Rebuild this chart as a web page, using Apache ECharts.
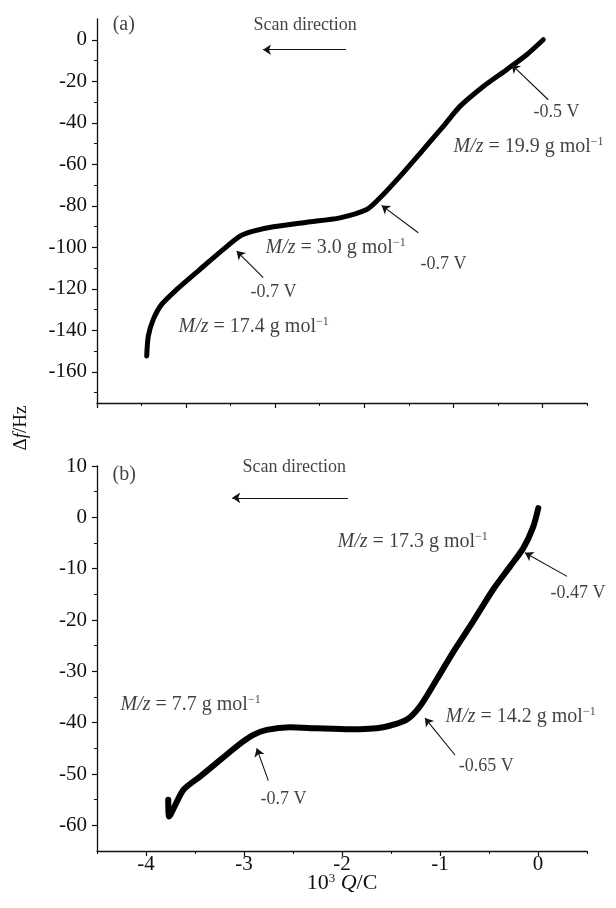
<!DOCTYPE html>
<html><head><meta charset="utf-8">
<script src="https://cdn.jsdelivr.net/npm/echarts@6/dist/echarts.min.js"></script>
<style>html,body{margin:0;padding:0;background:#fff}#c{width:616px;height:908px}</style>
</head><body><div id="c"></div>
<script>
// ---- Panel (a) data: 10^3 Q/C vs Δf/Hz ----
const qA  = [-4.442,-4.424,-4.368,-4.274,-4.105,-3.844,-3.582,-3.395,-3.246,-3.021,-2.646,-2.273,-1.973,-1.843,-1.599,-1.338,-1.113,-0.926,-0.664,-0.402,-0.177,0.009];
const dfA = [-152.3,-142.7,-134.7,-127.5,-120.3,-110.6,-101.0,-94.6,-92.2,-90.1,-87.9,-85.8,-81.8,-77.0,-65.8,-52.9,-41.7,-32.1,-22.5,-14.4,-7.2,0];
// ---- Panel (b) data ----
const qB  = [-3.773,-3.765,-3.619,-3.449,-3.245,-3.074,-2.905,-2.768,-2.531,-2.258,-1.918,-1.579,-1.340,-1.204,-1.034,-0.864,-0.660,-0.456,-0.286,-0.150,-0.048,0.003];
const dfB = [-55.0,-58.3,-53.1,-50.5,-47.3,-44.6,-42.4,-41.4,-40.9,-41.1,-41.3,-40.9,-39.4,-36.8,-31.6,-26.2,-20.2,-14.0,-9.6,-6.0,-1.8,1.8];

// ---- Axis ranges and ticks ----
const xRangeA = [-5, 0.5];
const xRangeB = [-4.5, 0.5];
const yRangeA = [-175, 10];
const yRangeB = [-65, 10];
const xTicksA = [-5,-4,-3,-2,-1,0];
const xMinorA = [-4.5,-3.5,-2.5,-1.5,-0.5,0.5];
const xTicksB = [-4,-3,-2,-1,0];
const xMinorB = [-4.5,-3.5,-2.5,-1.5,-0.5,0.5];
const yTicksA = [0,-20,-40,-60,-80,-100,-120,-140,-160];
const yMinorA = [-10,-30,-50,-70,-90,-110,-130,-150,-170];
const yTicksB = [10,0,-10,-20,-30,-40,-50,-60];
const yMinorB = [5,-5,-15,-25,-35,-45,-55];

// ---- Annotations (text, anchor in data units, arrows in data units) ----
const notesA   = ['(a)','Scan direction','-0.5 V','{i|M/z} = 19.9 g mol{s|−1}','-0.7 V','{i|M/z} = 3.0 g mol{s|−1}','-0.7 V','{i|M/z} = 17.4 g mol{s|−1}'];
const notesAAt = [[-4.83,7.2],[-3.25,7.2],[-0.107,-35.1],[-1.005,-51.5],[-1.375,-108.2],[-3.114,-100.1],[-3.283,-121.7],[-4.09,-138.5]];
const arrowsA  = [[[-2.205,-4.8],[-3.137,-4.8]],[[0.065,-28.9],[-0.346,-12.0]],[[-1.394,-93.0],[-1.805,-79.8]],[[-3.134,-114.6],[-3.432,-101.8]]];
const notesB   = ['(b)','Scan direction','{i|M/z} = 17.3 g mol{s|−1}','-0.47 V','{i|M/z} = 14.2 g mol{s|−1}','-0.65 V','{i|M/z} = 7.7 g mol{s|−1}','-0.7 V'];
const notesBAt = [[-4.347,8.3],[-3.02,9.75],[-2.05,-4.7],[0.122,-14.7],[-0.949,-38.8],[-0.813,-48.4],[-4.265,-36.5],[-2.837,-55.0]];
const arrowsB  = [[[-1.94,3.8],[-3.12,3.8]],[[0.296,-11.5],[-0.133,-6.9]],[[-0.847,-46.3],[-1.153,-39.1]],[[-2.752,-51.3],[-2.87,-45.0]]];

const FONT = 'Liberation Serif';
const INK = '#111';
const rich = {
  i: {fontStyle:'italic', fontFamily:FONT, fontSize:20, color:INK},
  s: {fontSize:12, fontFamily:FONT, verticalAlign:'top', lineHeight:12, color:INK}
};
function noteFont(t){ return /V$/.test(t) ? 18 : (/^\(/.test(t) ? 20 : (/^Scan/.test(t) ? 18 : 20)); }

function xAxisPair(grid, range, ticks, minor, labels, name){
  const main = {
    type:'value', gridIndex:grid, position:'bottom', min:range[0], max:range[1],
    axisLine:{show:true, onZero:false, lineStyle:{color:INK, width:1.3}},
    axisTick:{show:true, customValues:ticks, length:5, lineStyle:{color:INK, width:1.2}},
    axisLabel:{show:labels, customValues:ticks, margin:3, fontFamily:FONT, fontSize:21, color:INK},
    splitLine:{show:false}
  };
  if (name) {
    main.name = '10{s|3} {i|Q}/C';
    main.nameLocation = 'middle';
    main.nameGap = 21;
    main.nameMoveOverlap = false;
    main.nameTextStyle = {fontFamily:FONT, fontSize:22, color:INK, rich:{
      i:{fontStyle:'italic', fontFamily:FONT, fontSize:22, color:INK},
      s:{fontSize:13, fontFamily:FONT, verticalAlign:'top', lineHeight:13, color:INK}}};
  }
  const min = {
    type:'value', gridIndex:grid, position:'bottom', min:range[0], max:range[1],
    axisLine:{show:false, onZero:false},
    axisTick:{show:true, customValues:minor, length:3, lineStyle:{color:INK, width:1}},
    axisLabel:{show:false}, splitLine:{show:false}
  };
  return [main, min];
}
function yAxisPair(grid, range, ticks, minor){
  return [{
    type:'value', gridIndex:grid, position:'left', min:range[0], max:range[1],
    axisLine:{show:true, onZero:false, lineStyle:{color:INK, width:1.3}},
    axisTick:{show:true, customValues:ticks, length:5, lineStyle:{color:INK, width:1.2}},
    axisLabel:{show:true, customValues:ticks, margin:10, fontFamily:FONT, fontSize:21, color:INK},
    splitLine:{show:false}
  },{
    type:'value', gridIndex:grid, position:'left', min:range[0], max:range[1],
    axisLine:{show:false, onZero:false},
    axisTick:{show:true, customValues:minor, length:3, lineStyle:{color:INK, width:1}},
    axisLabel:{show:false}, splitLine:{show:false}
  }];
}
function curve(q, df, xi, yi, w){
  return {type:'line', xAxisIndex:xi, yAxisIndex:yi, data:q.map((v,i)=>[v, df[i]]),
    showSymbol:false, symbol:'none', smooth:0.25, silent:true, animation:false,
    lineStyle:{color:'#000', width:w, cap:'round', join:'round'}};
}
function notes(texts, at, arrows, xi, yi){
  return {type:'scatter', xAxisIndex:xi, yAxisIndex:yi, symbolSize:1, silent:true, animation:false,
    itemStyle:{color:'rgba(0,0,0,0)'},
    data:texts.map((t,k)=>({value:at[k], label:{formatter:t, fontSize:noteFont(t)}})),
    label:{show:true, position:'right', distance:0, fontFamily:FONT, fontSize:20, color:INK, lineHeight:22, rich:rich},
    markLine:{silent:true, animation:false, symbol:['none','arrow'], symbolSize:8, label:{show:false},
      lineStyle:{color:INK, width:1.1, type:'solid'},
      data:arrows.map(a=>[{coord:a[0]},{coord:a[1]}])}
  };
}

const xa = xAxisPair(0, xRangeA, xTicksA, xMinorA, false, false);
const xb = xAxisPair(1, xRangeB, xTicksB, xMinorB, true, true);
const ya = yAxisPair(0, yRangeA, yTicksA, yMinorA);
const yb = yAxisPair(1, yRangeB, yTicksB, yMinorB);

const chart = echarts.init(document.getElementById('c'), null, {renderer:'canvas'});
chart.setOption({
  backgroundColor:'#fff',
  animation:false,
  grid:[{left:97, top:19, width:490, height:384}, {left:97, top:466, width:490, height:385}],
  xAxis:[xa[0], xa[1], xb[0], xb[1]],
  yAxis:[ya[0], ya[1], yb[0], yb[1]],
  series:[curve(qA, dfA, 0, 0, 5), curve(qB, dfB, 2, 2, 6), notes(notesA, notesAAt, arrowsA, 0, 0), notes(notesB, notesBAt, arrowsB, 2, 2)],
  graphic:[{type:'text', x:21, y:428, rotation:Math.PI/2, silent:true,
    style:{text:'Δ{i|f}/Hz', fontFamily:FONT, fontSize:19, fill:INK, align:'center', verticalAlign:'middle',
      rich:{i:{fontStyle:'italic', fontFamily:FONT, fontSize:19, fill:INK}}}}]
});
</script></body></html>
